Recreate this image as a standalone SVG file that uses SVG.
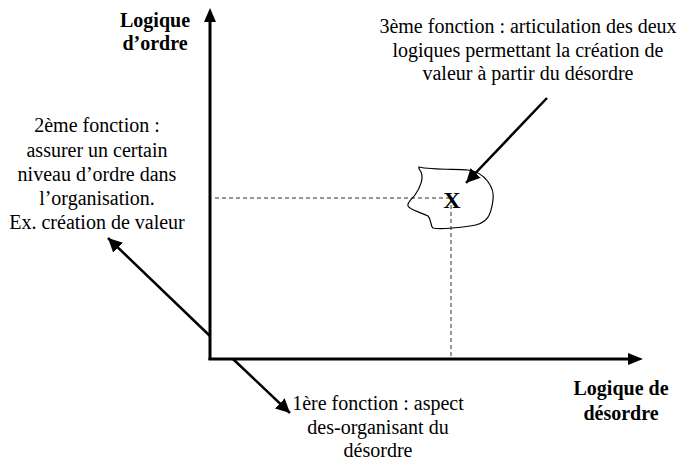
<svg xmlns="http://www.w3.org/2000/svg" width="684" height="461" viewBox="0 0 684 461">
<style>
.t{font-family:"Liberation Serif","Times New Roman",serif;font-size:20px;fill:#000;text-anchor:middle}
.b{font-weight:bold}
.ax{stroke:#000;stroke-width:3;fill:none}
.ar{stroke:#000;stroke-width:2.5;fill:none}
.d{stroke:#333;stroke-width:1;stroke-dasharray:4,3;fill:none}
</style>
<defs>
<marker id="ah" markerUnits="userSpaceOnUse" markerWidth="16" markerHeight="14" refX="14" refY="7" orient="auto">
<path d="M0,0 L14,7 L0,14 Z" fill="#000"/>
</marker>
</defs>
<g id="connectors">
<line class="d" x1="215" y1="198" x2="451" y2="198"/>
<line class="d" x1="451" y1="198" x2="451" y2="357"/>
<line class="ax" x1="210" y1="360" x2="210" y2="20"/>
<path d="M210,8 L204,22 L216,22 Z" fill="#000"/>
<line class="ax" x1="208.5" y1="359" x2="630" y2="359"/>
<path d="M643,359 L628,353 L628,365 Z" fill="#000"/>
<line class="ar" x1="547" y1="98" x2="466" y2="183" marker-end="url(#ah)"/>
<line class="ar" x1="210" y1="336" x2="108" y2="238" marker-end="url(#ah)"/>
<line class="ar" x1="233" y1="359" x2="290" y2="413" marker-end="url(#ah)"/>
</g>
<g id="axis-y-label">
<text class="t b" x="155" y="27">Logique</text>
<text class="t b" x="155" y="50">d’ordre</text>
</g>
<g id="axis-x-label">
<text class="t b" x="621" y="395">Logique de</text>
<text class="t b" x="621" y="420">désordre</text>
</g>
<g id="fn3">
<text class="t" x="528" y="33">3ème fonction : articulation des deux</text>
<text class="t" x="528" y="57">logiques permettant la création de</text>
<text class="t" x="528" y="80">valeur à partir du désordre</text>
</g>
<g id="fn2">
<text class="t" x="97" y="132">2ème fonction :</text>
<text class="t" x="97" y="157">assurer un certain</text>
<text class="t" x="97" y="181">niveau d’ordre dans</text>
<text class="t" x="97" y="205">l’organisation.</text>
<text class="t" x="97" y="229">Ex. création de valeur</text>
</g>
<g id="fn1">
<text class="t" x="378" y="410">1ère fonction : aspect</text>
<text class="t" x="378" y="434">des-organisant du</text>
<text class="t" x="378" y="457">désordre</text>
</g>
<g id="blob">
<path d="M419,167 C432,170 455,169 468,170 C485,172 495,188 493,200 C491,215 488,224 470,226 C455,228 440,230 433,228 C430,226 432,220 428,216 C420,212 410,210 408,206 C407,202 412,199 415,195 C420,188 424,178 421,172 C420,170 418,168 419,167 Z" fill="none" stroke="#000" stroke-width="1.2"/>
<text class="t b" x="452" y="208" style="font-size:24px">X</text>
</g>
</svg>
